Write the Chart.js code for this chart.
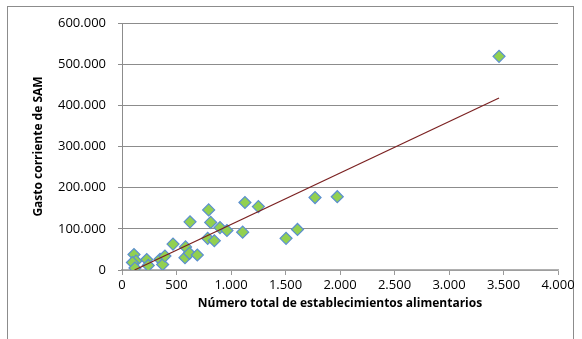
<!DOCTYPE html>
<html>
<head>
<meta charset="utf-8">
<script src="https://cdn.jsdelivr.net/npm/chart.js@4/dist/chart.umd.min.js"></script>
<style>
	body { margin: 0; background: #fff; }
	#marco { position: absolute; left: 7px; top: 6px; width: 567px; height: 340px; border: 1px solid #8c8c8c; box-sizing: border-box; }
	#caja { position: absolute; left: 0; top: 0; width: 582px; height: 339px; }
</style>
</head>
<body>
<div id="marco"></div>
<div id="caja"><canvas id="graficoGasto"></canvas></div>
<script>
// numero de establecimientos alimentarios por municipio
var establecimientos = [110, 128, 96, 119, 227, 241, 349, 373, 394, 468, 583, 578, 619, 691, 624,
	795, 814, 786, 847, 899, 963, 1107, 1128, 1251, 1505, 1610, 1771, 1975, 3459];
// gasto corriente de SAM
var gasto = [37700, 21900, 18200, 4900, 25500, 11000, 26000, 13400, 34000, 63000, 56000, 30000, 40600, 36500, 117000,
	146000, 115600, 77000, 71000, 103000, 96000, 92000, 164000, 154000, 77000, 98500, 176000, 178000, 519000];
// extremos de la linea de tendencia
var tendenciaX = [115, 3459];
var tendenciaY = [0, 418000];

var ticksX = [0, 500, 1000, 1500, 2000, 2500, 3000, 3500, 4000];
var ticksY = [0, 100000, 200000, 300000, 400000, 500000, 600000];

function formatoMiles(v){
	return String(v).replace(/\B(?=(\d{3})+(?!\d))/g, '.');
}

function puntos(xs, ys){
	var lista = [];
	xs.forEach(function(x, i){
		lista.push({ x: x, y: ys[i] });
	});
	return lista;
}

var ctx = document.getElementById('graficoGasto').getContext('2d');

var grafico = new Chart(ctx, {
	type: 'scatter',
	data: {
		datasets: [
			{
				label: 'Gasto corriente',
				data: puntos(establecimientos, gasto),
				pointStyle: 'rectRot',
				pointRadius: 6,
				pointBackgroundColor: '#92d050',
				pointBorderColor: '#5b8fd0',
				pointBorderWidth: 1.2,
				order: 2
			},
			{
				label: 'Tendencia',
				type: 'line',
				data: puntos(tendenciaX, tendenciaY),
				borderColor: '#7b2121',
				borderWidth: 1.2,
				pointRadius: 0,
				fill: false,
				order: 1
			}
		]
	},
	options: {
		responsive: true,
		maintainAspectRatio: false,
		animation: false,
		layout: { padding: { top: 23, right: 24, left: 0, bottom: 0 } },
		plugins: {
			legend: { display: false },
			tooltip: { enabled: false }
		},
		scales: {
			x: {
				type: 'linear',
				min: 0,
				max: 4000,
				afterFit: function(scale){ scale.height = 69; },
				afterBuildTicks: function(scale){
					scale.ticks = ticksX.map(function(v){ return { value: v }; });
				},
				ticks: {
					color: '#000',
					font: { family: 'Open Sans', size: 13 },
					padding: 2,
					maxRotation: 0,
					callback: function(v){ return formatoMiles(v); }
				},
				grid: {
					drawOnChartArea: false,
					drawTicks: true,
					tickLength: 5,
					color: '#9a9a9a'
				},
				border: { color: '#b0b0b0', width: 1.5 },
				title: {
					display: true,
					text: 'Número total de establecimientos alimentarios',
					color: '#000',
					font: { family: 'Open Sans', size: 12, weight: 'bold' },
					padding: { top: 0, bottom: 28 }
				}
			},
			y: {
				type: 'linear',
				min: 0,
				max: 600000,
				afterFit: function(scale){ scale.width = 122; },
				afterBuildTicks: function(scale){
					scale.ticks = ticksY.map(function(v){ return { value: v }; });
				},
				ticks: {
					color: '#000',
					font: { family: 'Open Sans', size: 13 },
					padding: 12,
					callback: function(v){ return formatoMiles(v); }
				},
				grid: {
					color: '#8c8c8c',
					lineWidth: 1,
					drawTicks: true,
					tickLength: 4
				},
				border: { color: '#8c8c8c', width: 1 },
				title: {
					display: true,
					text: 'Gasto corriente de SAM',
					color: '#000',
					font: { family: 'Open Sans', size: 12, weight: 'bold' },
					padding: { top: 31, bottom: 0 }
				}
			}
		}
	}
});
</script>
</body>
</html>
